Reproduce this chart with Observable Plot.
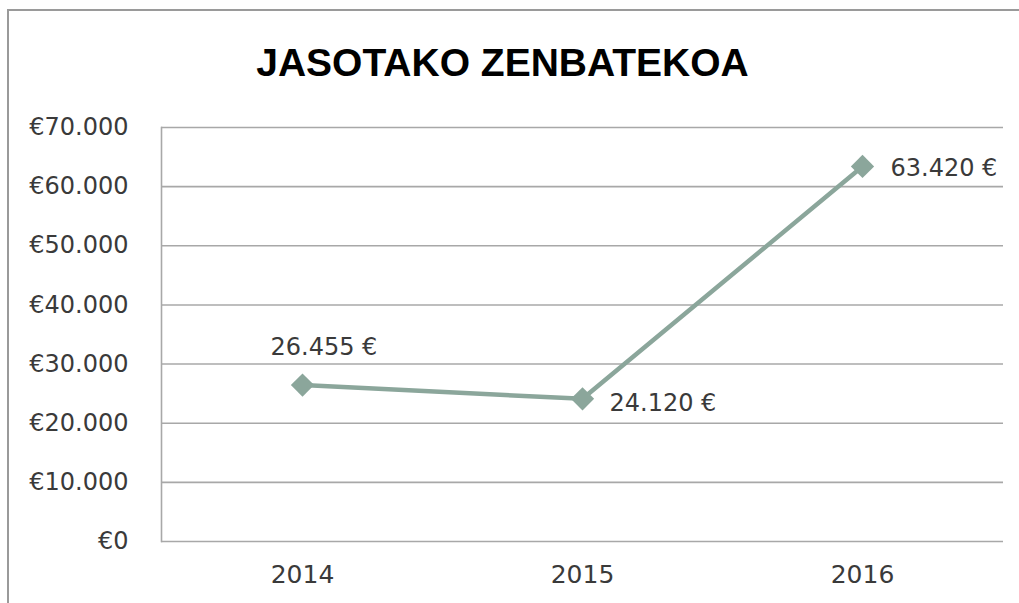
<!DOCTYPE html>
<html>
<head>
<meta charset="utf-8">
<script src="https://cdn.jsdelivr.net/npm/d3@7"></script>
<script src="https://cdn.jsdelivr.net/npm/@observablehq/plot@0.6"></script>
<style>
  html, body { margin: 0; padding: 0; background: #fff; overflow: hidden; }
  #wrap { position: relative; width: 1019px; height: 603px; overflow: hidden; }
  #bl { position: absolute; left: 7px; top: 9px; width: 2px; height: 594px; background: #9a9a9a; }
  #bt { position: absolute; left: 7px; top: 9px; width: 1012px; height: 2px; background: #9a9a9a; }
  #title { position: absolute; left: 0; top: 39px; width: 1005px; text-align: center;
           font-family: "Liberation Sans", Arial, sans-serif; font-weight: bold;
           font-size: 39px; color: #000; line-height: 48px; }
  #chart { position: absolute; left: 0; top: 0; }
</style>
</head>
<body>
<div id="wrap">
  <div id="bl"></div>
  <div id="bt"></div>
  <div id="chart"></div>
  <div id="title">JASOTAKO ZENBATEKOA</div>
</div>
<script>
const years = ["2014", "2015", "2016"];
const amounts = [26455, 24120, 63420];
const yTicks = [0, 10000, 20000, 30000, 40000, 50000, 60000, 70000];
// label offsets relative to each point (style only)
const labelDx = [-32, 27, 28];
const labelDy = [-38, 4, 2];

const data = years.map((y, i) => ({year: y, value: amounts[i], dx: labelDx[i], dy: labelDy[i]}));

const loc = d3.formatLocale({decimal: ",", thousands: ".", grouping: [3], currency: ["€", ""]});
const fmt = loc.format(",d");
const tickFmt = v => "€" + fmt(v);
const labelFmt = v => fmt(v) + " €";

const lineColor = "#8ba69b";
const textColor = "#3a3a3a";
const font = "DejaVu Sans";

const plot = Plot.plot({
  width: 1019,
  height: 603,
  marginLeft: 161,
  marginRight: 16,
  marginTop: 127,
  marginBottom: 62,
  style: {fontFamily: font, fontSize: "24px", color: textColor, background: "transparent"},
  x: {type: "band", domain: years, padding: 0, label: null},
  y: {domain: [0, 70000], ticks: yTicks, label: null},
  marks: [
    Plot.gridY(yTicks, {stroke: "#a8a8a8", strokeOpacity: 1, strokeWidth: 1.6}),
    Plot.frame({anchor: "left", stroke: "#a8a8a8", strokeWidth: 1.6}),
    Plot.axisY(yTicks, {tickSize: 0, tickPadding: 33, tickFormat: tickFmt, fill: textColor, fontSize: 24, label: null}),
    Plot.axisX({tickSize: 0, tickPadding: 24, fill: textColor, fontSize: 25, label: null}),
    Plot.line(data, {x: "year", y: "value", stroke: lineColor, strokeWidth: 4.5}),
    Plot.dot(data, {x: "year", y: "value", symbol: d3.symbolDiamond2, r: 10.5, fill: lineColor, stroke: "none"}),
    ...data.map(d => Plot.text([d], {x: "year", y: "value", text: e => labelFmt(e.value),
      textAnchor: "start", dx: d.dx, dy: d.dy, fill: textColor, fontSize: 24, fontFamily: font}))
  ]
});
document.getElementById("chart").appendChild(plot);
</script>
</body>
</html>
